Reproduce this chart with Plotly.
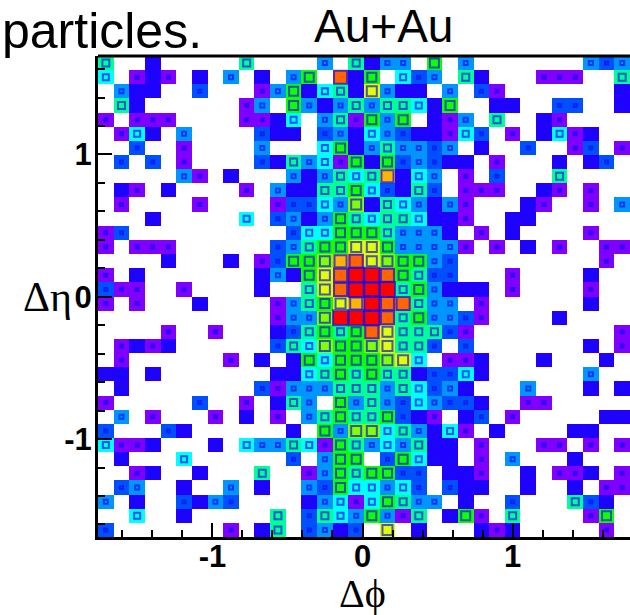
import plotly.graph_objects as go

# Colour level per occupied bin, {column: level}, one list per eta row (top to bottom)
r00 = {0:6,3:2,9:6,14:4,16:6,17:2,18:4,19:4,21:7,23:4,31:4,32:3,33:4}
r01 = {0:5,2:1,3:2,4:1,6:2,8:4,10:2,12:4,13:7,15:11,16:2,17:7,19:5,20:3,21:4,23:6,24:2,28:1,29:1,30:1,33:6}
r02 = {1:4,2:2,3:2,6:3,10:1,11:4,12:7,13:2,14:5,15:6,16:2,17:9,18:4,19:2,20:2,22:4,24:3,25:1,33:2}
r03 = {1:6,2:2,9:1,10:4,12:7,13:4,14:2,15:4,16:6,17:4,18:6,19:6,20:5,21:2,22:7,25:2,26:2,29:3,30:3,33:2}
r04 = {0:1,2:1,3:1,4:1,9:1,10:1,11:2,12:5,14:4,15:6,16:1,17:7,18:4,19:7,21:2,22:1,23:4,25:6,28:2,29:1}
r05 = {1:1,2:5,3:2,5:4,10:3,11:2,12:2,14:3,15:4,16:2,17:5,18:4,19:3,20:2,21:2,22:1,23:5,24:3,26:1,28:2,29:5,30:1,31:2}
r06 = {2:3,5:1,10:4,14:5,15:7,16:2,17:4,18:6,19:4,20:4,21:3,22:4,24:2,27:3,30:1,31:3,33:1}
r07 = {1:3,3:3,5:1,10:3,11:2,12:6,13:4,14:5,15:1,16:7,17:2,18:7,19:3,20:4,21:3,22:2,23:2,25:1,29:2,31:2,32:3}
r08 = {5:4,6:1,8:2,12:4,13:2,14:4,15:6,16:5,17:6,18:10,19:2,20:5,21:4,23:1,25:3,29:6}
r09 = {1:2,2:1,4:2,9:1,11:4,12:2,13:2,14:6,15:6,16:7,17:5,18:3,19:2,20:6,21:3,23:1,24:1,25:1,28:2,29:1,31:1}
r10 = {1:1,6:1,11:1,12:3,13:3,14:5,15:4,16:8,17:2,18:6,19:5,20:4,21:2,22:4,23:1,27:2,28:1,31:1,33:4}
r11 = {3:2,9:5,11:3,12:4,13:2,14:4,15:7,16:6,17:5,18:6,19:6,20:5,21:2,22:2,23:1,26:2,27:2}
r12 = {0:1,1:3,12:3,13:5,14:5,15:7,16:7,17:7,18:6,19:4,20:4,21:4,22:2,24:1,26:2,31:1}
r13 = {0:1,2:1,3:1,4:1,11:3,12:4,13:6,14:7,15:7,16:9,17:9,18:7,19:4,20:4,21:4,22:4,23:1,25:1,27:2,29:1,32:1,33:1}
r14 = {4:2,8:2,10:1,11:3,12:7,13:7,14:8,15:10,16:11,17:9,18:8,19:7,20:7,21:4,22:3,32:1}
r15 = {0:1,2:2,10:2,11:4,12:2,13:7,14:9,15:11,16:12,17:12,18:11,19:7,20:6,21:3,22:3,26:1,31:2}
r16 = {0:3,1:1,2:1,5:1,10:2,13:6,14:9,15:11,16:12,17:12,18:12,19:6,20:7,21:4,22:2,23:2,24:2,26:1,31:1}
r17 = {0:1,2:1,6:2,11:1,12:4,13:6,14:7,15:9,16:10,17:12,18:11,19:11,20:6,21:4,22:4,24:1,31:2}
r18 = {11:1,12:4,13:4,14:8,15:12,16:12,17:12,18:11,19:6,20:7,21:4,22:4,23:3,24:1,29:2}
r19 = {4:1,7:1,11:2,12:3,13:6,14:7,15:6,16:7,17:11,18:9,19:6,20:6,21:6,22:3,23:1,33:1}
r20 = {1:1,2:2,3:1,4:2,11:3,12:6,13:5,14:8,15:7,16:7,17:8,18:9,19:6,20:6,21:3,23:3,31:2,33:1}
r21 = {1:1,8:1,10:2,12:2,13:7,14:5,15:7,16:7,17:7,18:8,19:9,20:5,22:1,23:1,24:2,28:2,32:2}
r22 = {0:2,1:2,3:2,11:2,12:2,13:5,14:6,15:7,16:6,17:7,18:6,19:6,20:2,21:3,22:3,23:5,24:2,31:4}
r23 = {1:2,10:3,11:1,12:4,13:4,14:4,15:6,16:6,17:6,18:4,19:6,20:5,21:3,22:4,23:2,27:4,31:2,33:2}
r24 = {0:1,6:3,9:1,11:2,12:6,13:4,15:7,16:4,17:6,18:4,19:3,20:5,21:4,22:3,23:3,24:2,27:1,28:1}
r25 = {1:4,3:1,7:1,9:2,11:1,13:4,14:6,15:7,16:6,17:6,18:7,19:3,20:2,21:1,23:2,24:3,26:1,32:2,33:2}
r26 = {0:3,4:3,5:2,12:2,14:7,15:4,16:8,17:8,18:5,19:6,20:4,21:2,22:5,23:1,25:2,30:2,31:2}
r27 = {0:5,1:1,2:1,3:2,7:2,9:5,10:4,11:4,12:6,13:5,14:1,15:7,16:6,17:4,18:5,19:4,20:6,21:2,22:2,24:1,28:1,29:1,31:1,33:1}
r28 = {1:2,5:5,12:3,14:4,15:7,16:7,18:3,19:7,20:5,21:2,22:2,24:1,26:4,30:2}
r29 = {2:1,3:2,6:2,10:6,13:1,14:4,15:7,16:6,17:7,18:7,19:3,20:3,22:2,23:2,24:1,27:2,29:1,30:1,31:2,33:1}
r30 = {1:3,2:4,5:2,8:4,10:2,13:4,14:3,15:7,16:5,17:5,18:4,19:5,20:3,22:3,23:2,24:2,27:2,30:2,32:1,33:1}
r31 = {0:4,2:2,5:3,6:2,7:4,8:3,13:2,14:4,15:5,16:1,17:5,18:7,19:6,20:4,21:4,23:2,26:3,30:6,31:3,32:2}
r32 = {2:5,5:2,11:6,13:3,14:6,15:5,16:4,17:7,18:4,19:1,20:6,22:2,23:7,24:1,26:6,31:1,32:7}
r33 = {0:3,8:1,10:2,11:6,13:3,14:4,15:2,16:3,18:9,20:2,24:2,25:1,26:2,32:1}
rows = [r00,r01,r02,r03,r04,r05,r06,r07,r08,r09,r10,r11,r12,r13,r14,r15,r16,
        r17,r18,r19,r20,r21,r22,r23,r24,r25,r26,r27,r28,r29,r30,r31,r32,r33]

level_colors = ["#7f00ff","#2000ff","#0050ff","#0095ff","#00ffff","#00ff95",
                "#10ff00","#80ff00","#e0ff00","#ffb400","#ff6400","#ff0000"]
level_box_px = [3,3,3,4,6,7,9,10,10,12,13,15]
x_tick_vals = [-1,0,1]
y_tick_vals = [-1,0,1]

x_range = [-1.763, 1.783]
y_range = [-1.688, 1.692]
n_col, n_row = 34, 34
dx = (x_range[1]-x_range[0])/n_col
dy = (y_range[1]-y_range[0])/n_row
x_centres = [x_range[0]+(i+.5)*dx for i in range(n_col)]
y_centres = [y_range[1]-(j+.5)*dy for j in range(n_row)]

z = [[row.get(c) for c in range(n_col)] for row in rows]

n = len(level_colors)
scale = []
for i, col in enumerate(level_colors):
    scale += [[i/n, col], [(i+1)/n, col]]

fig = go.Figure()
fig.add_trace(go.Heatmap(x=x_centres, y=y_centres, z=z, zmin=.5, zmax=n+.5,
                         colorscale=scale, showscale=False, hoverongaps=False))

px, py, ps, psym = [], [], [], []
for j, row in enumerate(rows):
    for c, lev in row.items():
        px.append(x_centres[c]); py.append(y_centres[j])
        ps.append(level_box_px[lev-1])
        psym.append("square" if lev <= 2 else "square-open")
fig.add_trace(go.Scatter(x=px, y=py, mode="markers", hoverinfo="skip",
                         marker=dict(symbol=psym, size=ps, color="#1010f0",
                                     line=dict(color="#1010f0", width=2))))

tick_font = dict(family="Liberation Sans", size=31, color="black", weight="bold")
axis = dict(showgrid=False, zeroline=False, showline=True, linecolor="black", linewidth=3,
            mirror=False, ticks="inside", ticklen=14, tickwidth=2, tickcolor="black",
            tickmode="array", tickfont=tick_font, automargin=False,
            minor=dict(dtick=0.2, tick0=0, ticks="inside", ticklen=7, tickwidth=2, tickcolor="black"))
fig.update_layout(
    width=630, height=615, margin=dict(l=97.5, r=0, t=56, b=78), autosize=False,
    paper_bgcolor="white", plot_bgcolor="white", showlegend=False,
    xaxis=dict(axis, range=x_range, tickvals=x_tick_vals, ticktext=["-1","0","1"], ticklabelstandoff=-10),
    yaxis=dict(axis, range=y_range, tickvals=y_tick_vals, ticktext=["-1","0","1"], ticklabelstandoff=-3),
    shapes=[dict(type="line", xref="paper", yref="paper", x0=0, x1=1, y0=1, y1=1,
                 line=dict(color="black", width=3))],
    annotations=[
        dict(text="particles.", xref="paper", yref="paper", x=-97.5/532.5, y=1-5/481, xanchor="left", yanchor="bottom",
             showarrow=False, font=dict(family="Liberation Sans", size=50, color="black"), xshift=-1),
        dict(text="Au+Au", xref="paper", yref="paper", x=(383.5-97.5)/532.5, y=1+2/481, xanchor="center", yanchor="bottom",
             showarrow=False, font=dict(family="Liberation Sans", size=46, color="black")),
        dict(text="Δη", xref="paper", yref="y", x=-51/532.5, y=0, xanchor="center", yanchor="middle",
             showarrow=False, font=dict(family="Liberation Serif", size=42, color="black")),
        dict(text="Δϕ", xref="x", yref="paper", x=0, y=-32/481, xanchor="center", yanchor="top",
             showarrow=False, font=dict(family="Liberation Serif", size=40, color="black")),
    ],
)
fig.write_html("out.html", config=dict(displayModeBar=False),
               post_script="document.body.style.margin='0';window.dispatchEvent(new Event('resize'));")
